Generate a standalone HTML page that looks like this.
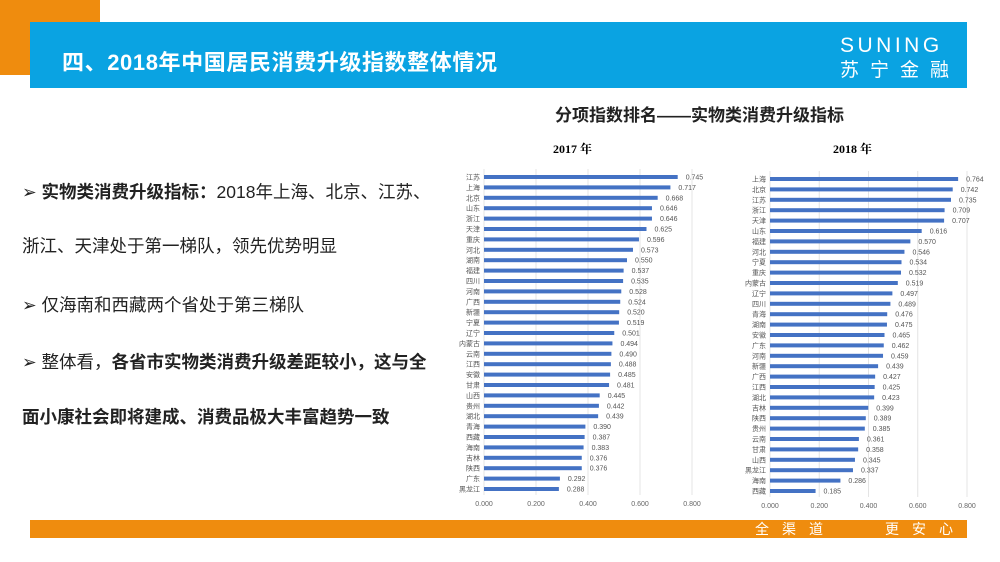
<!DOCTYPE html>
<html><head><meta charset="utf-8">
<style>
body{margin:0;width:1000px;height:562px;overflow:hidden;background:#fff;font-family:"Liberation Sans","Noto Sans CJK SC",sans-serif;position:relative}
.abs{position:absolute}
.txt{font-size:17.5px;color:#222;left:22px;white-space:nowrap}
</style></head><body>
<div class="abs" style="left:0;top:0;width:100px;height:75px;background:#ef8c0e"></div>
<div class="abs" style="left:30px;top:22px;width:937px;height:66px;background:#0aa3e2"></div>
<div class="abs" style="left:62px;top:45px;font-size:22px;font-weight:bold;color:#fff;letter-spacing:0.6px">四、2018年中国居民消费升级指数整体情况</div>
<div class="abs" style="left:840px;top:34px;font-size:21px;color:#fff;letter-spacing:3.5px">SUNING</div>
<div class="abs" style="left:840px;top:55px;font-size:19px;color:#fff;letter-spacing:11px">苏宁金融</div>
<div class="abs" style="left:555px;top:101px;font-size:17px;font-weight:bold;color:#222">分项指数排名——实物类消费升级指标</div>
<div class="abs" style="left:553px;top:140px;font-size:12px;font-weight:bold;font-family:'Liberation Serif','Noto Serif CJK SC',serif">2017 年</div>
<div class="abs" style="left:833px;top:140px;font-size:12px;font-weight:bold;font-family:'Liberation Serif','Noto Serif CJK SC',serif">2018 年</div>
<div class="abs txt" style="top:179px">➢ <b>实物类消费升级指标：</b>2018年上海、北京、江苏、</div>
<div class="abs txt" style="top:233px">浙江、天津处于第一梯队，领先优势明显</div>
<div class="abs txt" style="top:292px">➢ 仅海南和西藏两个省处于第三梯队</div>
<div class="abs txt" style="top:349px">➢ 整体看，<b>各省市实物类消费升级差距较小，这与全</b></div>
<div class="abs txt" style="top:404px"><b>面小康社会即将建成、消费品极大丰富趋势一致</b></div>
<svg class="abs" style="left:0;top:0" width="1000" height="562" id="charts"></svg>
<div class="abs" style="left:30px;top:520px;width:937px;height:18px;background:#ef8c0e"></div>
<div class="abs" style="left:755px;top:519px;font-size:14px;color:#fff;letter-spacing:13px;white-space:pre">全渠道</div>
<div class="abs" style="left:885px;top:519px;font-size:14px;color:#fff;letter-spacing:13px;white-space:pre">更安心</div>
<script>
const cats2017=["江苏","上海","北京","山东","浙江","天津","重庆","河北","湖南","福建","四川","河南","广西","新疆","宁夏","辽宁","内蒙古","云南","江西","安徽","甘肃","山西","贵州","湖北","青海","西藏","海南","吉林","陕西","广东","黑龙江"];
const vals2017=[0.745,0.717,0.668,0.646,0.646,0.625,0.596,0.573,0.550,0.537,0.535,0.528,0.524,0.520,0.519,0.501,0.494,0.490,0.488,0.485,0.481,0.445,0.442,0.439,0.390,0.387,0.383,0.376,0.376,0.292,0.288];
const cats2018=["上海","北京","江苏","浙江","天津","山东","福建","河北","宁夏","重庆","内蒙古","辽宁","四川","青海","湖南","安徽","广东","河南","新疆","广西","江西","湖北","吉林","陕西","贵州","云南","甘肃","山西","黑龙江","海南","西藏"];
const vals2018=[0.764,0.742,0.735,0.709,0.707,0.616,0.570,0.546,0.534,0.532,0.519,0.497,0.489,0.476,0.475,0.465,0.462,0.459,0.439,0.427,0.425,0.423,0.399,0.389,0.385,0.361,0.358,0.345,0.337,0.286,0.185];
const ticks=[0,0.2,0.4,0.6,0.8];
const svg=document.getElementById('charts');
const NS='http://www.w3.org/2000/svg';
function mk(t,a){const e=document.createElementNS(NS,t);for(const k in a)e.setAttribute(k,a[k]);svg.appendChild(e);return e;}
function draw(cats,vals,x0,x1,y0,y1,id){
  const sx=v=>x0+v/0.8*(x1-x0);
  const sy=i=>y0+i*(y1-y0)/(cats.length-1);
  ticks.forEach(t=>{
    const g=mk('line',{x1:sx(t),x2:sx(t),y1:y0-8,y2:y1+6,stroke:'#e4e4e4','stroke-width':1});
    
    
    const l=mk('text',{x:sx(t),y:y1+17,'font-size':7,fill:'#666','text-anchor':'middle'});
    l.textContent=t.toFixed(3);
    
    
  });
  cats.forEach((c,i)=>{
    const y=sy(i);
    const b=mk('rect',{x:x0,y:y-2,width:sx(vals[i])-x0,height:4,fill:'#4472c4'});
    
    
    const l=mk('text',{x:x0-4,y:y+2.5,'font-size':7,fill:'#555','text-anchor':'end'});
    l.textContent=c;
    
    
    const v=mk('text',{x:sx(vals[i])+8,y:y+2.5,'font-size':7,fill:'#555'});
    v.textContent=vals[i].toFixed(3);
    
    
  });
}
draw(cats2017,vals2017,484,692,177,489,'2017');
draw(cats2018,vals2018,770,967,179,491,'2018');
</script>
</body></html>
